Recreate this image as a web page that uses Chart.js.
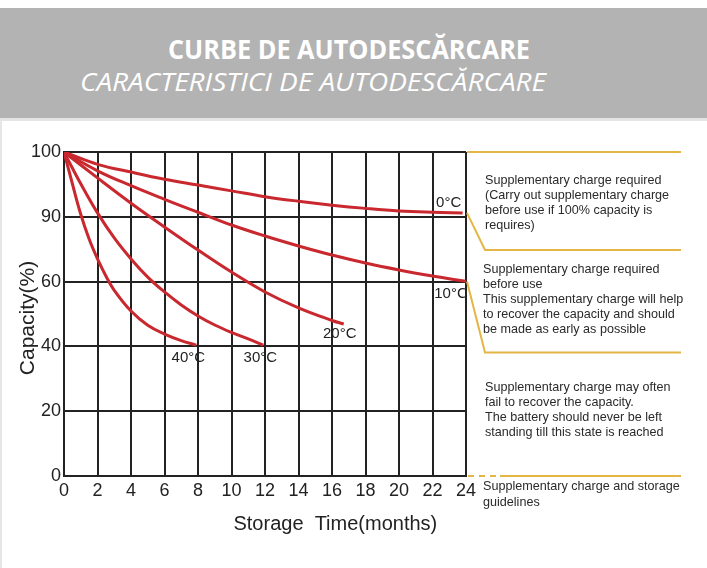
<!DOCTYPE html>
<html>
<head>
<meta charset="utf-8">
<title>Curbe de autodescarcare</title>
<script src="https://cdn.jsdelivr.net/npm/chart.js@4.4.0/dist/chart.umd.min.js"></script>
<style>
  html, body { margin: 0; padding: 0; background: #fff; }
  body { width: 707px; height: 568px; position: relative; overflow: hidden; }
  #chart { position: absolute; left: 0; top: 0; }
  #header { position: absolute; left: 0; top: 8px; width: 707px; height: 110px; background: #b3b3b3; border-bottom: 3px solid #e4e4e4; }
  #frame { position: absolute; left: 0; top: 121px; width: 2px; height: 447px; background: #e6e6e6; }
  .title { position: absolute; color: #fff; white-space: nowrap; transform-origin: 0 0; font-family: "Open Sans", sans-serif; }
  #t1 { left: 168px; top: 23px; font-size: 26px; font-weight: 700; }
  #t2 { left: 80px; top: 55px; font-size: 26px; font-weight: 400; font-style: italic; }
</style>
</head>
<body>
<canvas id="chart" width="707" height="568"></canvas>
<div id="header">
  <div class="title" id="t1">CURBE DE AUTODESCĂRCARE</div>
  <div class="title" id="t2">CARACTERISTICI DE AUTODESCĂRCARE</div>
</div>
<div id="frame"></div>
<script>
// Y axis is not linear: tick labels are evenly spaced
const yTickLabels = [0, 20, 40, 60, 90, 100];

// Storage time (months) and remaining capacity (%) per temperature
const months0C  = [0, 2, 4, 6, 8, 10, 12, 14, 16, 18, 20, 22, 23.8];
const cap0C     = [100, 98.1, 96.9, 95.8, 94.9, 94.0, 93.1, 92.4, 91.8, 91.3, 90.9, 90.7, 90.6];
const months10C = [0, 2, 4, 6, 8, 10, 12, 14, 16, 18, 20, 22, 24];
const cap10C    = [100, 97.1, 94.8, 92.7, 90.7, 86.2, 81.1, 76.5, 72.3, 68.6, 65.4, 62.6, 60.1];
const months20C = [0, 2, 4, 6, 8, 10, 12, 14, 16, 16.7];
const cap20C    = [100, 96.0, 92.1, 85.3, 74.6, 64.4, 56.8, 51.9, 48.0, 46.9];
const months30C = [0, 1, 2, 3, 4, 5, 6, 7, 8, 9, 10, 11, 11.9];
const cap30C    = [100, 95.1, 90.6, 80.2, 70.5, 62.1, 56.8, 52.8, 49.4, 46.6, 44.3, 42.3, 40.4];
const months40C = [0, 0.5, 1, 1.5, 2, 2.5, 3, 4, 5, 6, 7, 7.9];
const cap40C    = [100, 95.1, 90.4, 79.7, 70.5, 62.6, 57.3, 50.9, 46.5, 43.8, 41.8, 40.4];

const seriesLabels = ['0°C', '10°C', '20°C', '30°C', '40°C'];

const xTitle = 'Storage  Time(months)';
const yTitle = 'Capacity(%)';

const noteTop = ['Supplementary charge required', '(Carry out supplementary charge', 'before use if 100% capacity is', 'requires)'];
const noteMid = ['Supplementary charge required', 'before use', 'This supplementary charge will help', 'to recover the capacity and should', 'be made as early as possible'];
const noteLow = ['Supplementary charge may often', 'fail to recover the capacity.', 'The battery should never be left', 'standing till this state is reached'];
const noteBottom = ['Supplementary charge and storage', 'guidelines'];

// map a capacity value onto the evenly spaced tick index
function capToAxis(c) {
    for (let i = 0; i < yTickLabels.length - 1; i++) {
        const a = yTickLabels[i], b = yTickLabels[i + 1];
        if (c <= b) return i + (c - a) / (b - a);
    }
    return yTickLabels.length - 1;
}

function toPoints(months, caps) {
    return months.map((m, i) => ({ x: m, y: capToAxis(caps[i]) }));
}

const RED = '#c8282e';
const INK = '#222';
const GOLD = '#e3b645';
const FONT = '"Liberation Sans", Arial, sans-serif';

// offsets of temperature labels from the curve end
const labelOffsets = [[-14, -10], [-15, 12], [-4, 10], [-3, 13], [-8, 13]];

const curveLabels = {
    id: 'curveLabels',
    afterDatasetsDraw(chart) {
        const ctx = chart.ctx;
        ctx.save();
        ctx.font = '15px ' + FONT;
        ctx.fillStyle = INK;
        ctx.textAlign = 'center';
        ctx.textBaseline = 'middle';
        chart.data.datasets.forEach((ds, i) => {
            const pts = chart.getDatasetMeta(i).data;
            const last = pts[pts.length - 1];
            ctx.fillText(ds.label, last.x + labelOffsets[i][0], last.y + labelOffsets[i][1]);
        });
        ctx.restore();
    }
};

// axis titles sit off-centre in the original, so draw them here
const axisTitles = {
    id: 'axisTitles',
    afterDraw(chart) {
        const ctx = chart.ctx;
        const a = chart.chartArea;
        ctx.save();
        ctx.fillStyle = INK;
        ctx.textAlign = 'center';
        ctx.textBaseline = 'middle';
        ctx.font = '20px ' + FONT;
        ctx.fillText(xTitle, chart.scales.x.getPixelForValue(16.2), a.bottom + 48);
        ctx.translate(28, (a.top + a.bottom) / 2 + 4);
        ctx.rotate(-Math.PI / 2);
        ctx.font = '21px ' + FONT;
        ctx.fillText(yTitle, 0, 0);
        ctx.restore();
    }
};

const guides = {
    id: 'guides',
    afterDraw(chart) {
        const ctx = chart.ctx;
        const a = chart.chartArea;
        const y = chart.scales.y;
        const x0 = a.right + 1, x1 = a.right + 19, xEnd = 681;
        const yTop = y.getPixelForValue(capToAxis(100));
        const y90 = y.getPixelForValue(capToAxis(cap0C[cap0C.length - 1]));
        const y60 = y.getPixelForValue(capToAxis(60));
        const yZero = y.getPixelForValue(0);
        ctx.save();
        ctx.strokeStyle = GOLD;
        ctx.lineWidth = 2;
        ctx.beginPath();
        ctx.moveTo(x0, yTop); ctx.lineTo(xEnd, yTop);
        ctx.moveTo(x0, y90); ctx.lineTo(x1, y90 + 37); ctx.lineTo(xEnd, y90 + 37);
        ctx.moveTo(x0, y60); ctx.lineTo(x1, y60 + 71); ctx.lineTo(xEnd, y60 + 71);
        ctx.moveTo(x1 + 15, yZero); ctx.lineTo(xEnd, yZero);
        ctx.stroke();
        ctx.setLineDash([6, 5]);
        ctx.beginPath();
        ctx.moveTo(x0 + 1, yZero); ctx.lineTo(x1 + 15, yZero);
        ctx.stroke();
        ctx.setLineDash([]);

        ctx.font = '12.6px ' + FONT;
        ctx.fillStyle = '#2a2a2a';
        ctx.textAlign = 'left';
        ctx.textBaseline = 'middle';
        const block = (lines, x, yStart, step) => {
            lines.forEach((t, i) => ctx.fillText(t, x, yStart + i * step));
        };
        block(noteTop, x1, yTop + 29, 15);
        block(noteMid, x1 - 2, y60 - 12.5, 15.2);
        block(noteLow, x1, y60 + 106, 15);
        block(noteBottom, x1 - 2, yZero + 11, 15.2);
        ctx.restore();
    }
};

const datasets = [
    [months0C, cap0C], [months10C, cap10C], [months20C, cap20C], [months30C, cap30C], [months40C, cap40C]
].map(([m, c], i) => ({
    label: seriesLabels[i],
    data: toPoints(m, c),
    borderColor: RED,
    borderWidth: 3,
    pointRadius: 0,
    fill: false,
    tension: 0.4
}));

new Chart(document.getElementById('chart'), {
    type: 'line',
    data: { datasets: datasets },
    plugins: [curveLabels, axisTitles, guides],
    options: {
        responsive: false,
        animation: false,
        devicePixelRatio: 1,
        layout: { padding: { left: 0, top: 152, right: 241, bottom: 0 } },
        plugins: { legend: { display: false }, tooltip: { enabled: false } },
        scales: {
            x: {
                type: 'linear', min: 0, max: 24,
                ticks: { stepSize: 2, color: INK, padding: 4, font: { family: FONT, size: 18 } },
                grid: { color: INK, lineWidth: 2, drawTicks: false },
                border: { color: INK, width: 2 },
                afterFit: s => { s.height = 92; }
            },
            y: {
                type: 'linear', min: 0, max: 5,
                ticks: { stepSize: 1, color: INK, padding: 3, font: { family: FONT, size: 18 }, callback: v => yTickLabels[v] },
                grid: { color: INK, lineWidth: 2, drawTicks: false },
                border: { color: INK, width: 2 },
                afterFit: s => { s.width = 64; }
            }
        }
    }
});

// fit the condensed header titles to their widths in the reference
function fitTitle(id, width) {
    const el = document.getElementById(id);
    const w = el.getBoundingClientRect().width;
    el.style.transform = 'scaleX(' + (width / w) + ')';
}
fitTitle('t1', 362);
fitTitle('t2', 466);
</script>
</body>
</html>
